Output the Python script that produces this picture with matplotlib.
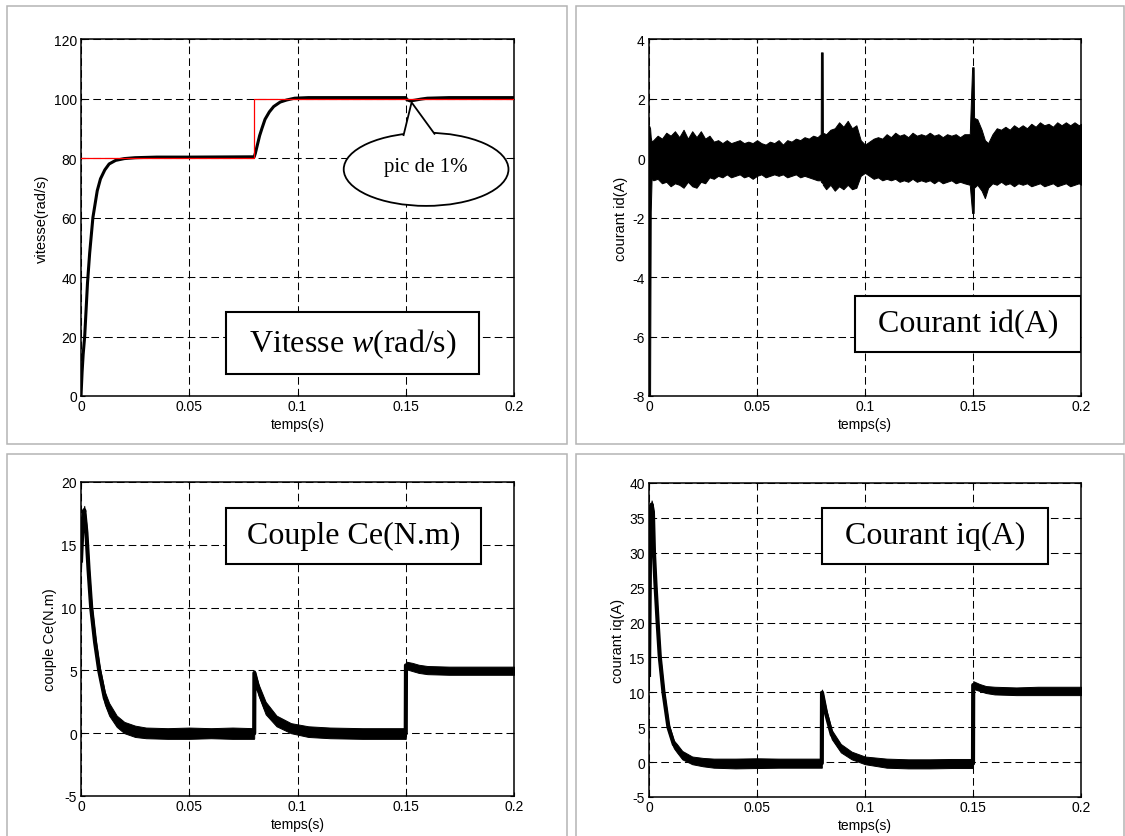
import matplotlib
matplotlib.use("Agg")
import matplotlib.pyplot as plt
import numpy as np
from matplotlib.patches import Rectangle, Ellipse, Polygon

plt.rcParams['font.family'] = ['Liberation Sans', 'DejaVu Sans']
plt.rcParams['mathtext.fontset'] = 'custom'
plt.rcParams['mathtext.rm'] = 'Liberation Serif'
plt.rcParams['mathtext.it'] = 'Liberation Serif:italic'
plt.rcParams['lines.scale_dashes'] = False

# ---- data ----
time_ticks = [0, 0.05, 0.1, 0.15, 0.2]
time_labels = ['0', '0.05', '0.1', '0.15', '0.2']

# speed reference (red) and measured speed (black)
ref_t = [0, 0.08, 0.08, 0.2]
ref_w = [80, 80, 100, 100]
speed_t = [0, 0.0005, 0.001, 0.0017, 0.0025, 0.003, 0.004, 0.0055, 0.0075, 0.009,
           0.011, 0.013, 0.016, 0.02, 0.025, 0.035, 0.05, 0.08, 0.0805, 0.0815,
           0.0825, 0.0836, 0.085, 0.087, 0.089, 0.092, 0.095, 0.0987, 0.105, 0.15,
           0.1505, 0.152, 0.154, 0.157, 0.16, 0.17, 0.2]
speed_w = [0, 8, 14, 20, 31, 38, 48, 60, 69, 73,
           76, 78, 79.2, 79.8, 80.1, 80.3, 80.3, 80.4, 81.5, 84.5,
           87.5, 90, 93, 95.5, 97.3, 98.8, 99.5, 100.1, 100.3, 100.3,
           99.6, 99.2, 99.4, 99.8, 100.1, 100.3, 100.3]

# id current, ripple band (lower / upper envelope)
id_t = [0, 0.0005, 0.0008, 0.0012, 0.002, 0.004, 0.006, 0.008, 0.010, 0.012,
        0.014, 0.016, 0.018, 0.020, 0.022, 0.024, 0.026, 0.028, 0.030, 0.032,
        0.034, 0.036, 0.038, 0.040, 0.042, 0.044, 0.046, 0.048, 0.050, 0.052,
        0.054, 0.056, 0.058, 0.060, 0.062, 0.064, 0.066, 0.068, 0.070, 0.072,
        0.074, 0.076, 0.078, 0.0795, 0.0796, 0.0804, 0.0805, 0.082, 0.084, 0.086,
        0.088, 0.090, 0.092, 0.094, 0.096, 0.098, 0.100, 0.102, 0.104, 0.106,
        0.108, 0.110, 0.112, 0.114, 0.116, 0.118, 0.120, 0.122, 0.124, 0.126,
        0.128, 0.130, 0.132, 0.134, 0.136, 0.138, 0.140, 0.142, 0.144, 0.146,
        0.1485, 0.1496, 0.1503, 0.1505, 0.152, 0.154, 0.1555, 0.157, 0.159, 0.161,
        0.163, 0.165, 0.167, 0.169, 0.171, 0.173, 0.175, 0.177, 0.179, 0.181,
        0.183, 0.185, 0.187, 0.189, 0.191, 0.193, 0.195, 0.197, 0.199, 0.2]
id_lo = [-8.0, -8.0, -1.8, -0.7, -0.75, -0.7, -0.85, -0.8, -0.95, -0.85,
         -0.9, -1.0, -0.8, -0.95, -1.0, -0.8, -0.85, -0.65, -0.7, -0.6,
         -0.65, -0.55, -0.65, -0.6, -0.55, -0.65, -0.6, -0.7, -0.6, -0.55,
         -0.65, -0.6, -0.55, -0.6, -0.55, -0.65, -0.6, -0.55, -0.65, -0.6,
         -0.65, -0.7, -0.75, -0.75, -0.8, -0.85, -0.9, -1.05, -0.9, -1.1,
         -0.95, -1.05, -0.9, -1.05, -1.0, -0.6, -0.5, -0.6, -0.7, -0.65,
         -0.75, -0.7, -0.75, -0.7, -0.8, -0.75, -0.8, -0.7, -0.8, -0.75,
         -0.8, -0.75, -0.85, -0.75, -0.85, -0.8, -0.75, -0.85, -0.8, -0.85,
         -0.9, -1.85, -1.85, -1.0, -0.9, -1.1, -1.35, -1.0, -0.85, -0.9,
         -0.8, -0.9, -0.85, -0.95, -0.85, -0.9, -0.85, -0.95, -0.9, -0.85,
         -0.95, -0.9, -0.85, -0.95, -0.9, -0.85, -0.95, -0.9, -0.85, -0.9]
id_hi = [1.1, 1.0, 0.7, 0.55, 0.6, 0.75, 0.65, 0.85, 0.75, 0.9,
         0.7, 0.95, 0.65, 0.9, 0.7, 0.9, 0.65, 0.75, 0.55, 0.6,
         0.5, 0.6, 0.5, 0.55, 0.6, 0.5, 0.55, 0.5, 0.6, 0.5,
         0.45, 0.55, 0.5, 0.6, 0.45, 0.6, 0.55, 0.65, 0.6, 0.7,
         0.65, 0.75, 0.7, 0.8, 3.55, 3.55, 0.85, 0.8, 0.95, 1.0,
         1.2, 1.05, 1.25, 1.0, 1.1, 0.6, 0.45, 0.55, 0.65, 0.7,
         0.65, 0.8, 0.7, 0.85, 0.75, 0.8, 0.7, 0.85, 0.75, 0.8,
         0.75, 0.85, 0.75, 0.8, 0.7, 0.8, 0.75, 0.8, 0.7, 0.8,
         0.8, 3.05, 3.05, 1.35, 1.3, 0.95, 0.6, 0.5, 0.8, 1.0,
         0.95, 1.05, 0.95, 1.1, 1.0, 1.1, 1.0, 1.15, 1.05, 1.2,
         1.1, 1.15, 1.05, 1.2, 1.1, 1.2, 1.1, 1.2, 1.1, 1.15]

# electromagnetic torque band
ce_t = [0, 0.0008, 0.0015, 0.0025, 0.0035, 0.0047, 0.0065, 0.0084, 0.011, 0.013,
        0.0165, 0.02, 0.025, 0.03, 0.04, 0.05, 0.06, 0.07, 0.0799, 0.08,
        0.0801, 0.082, 0.0853, 0.0903, 0.097, 0.105, 0.115, 0.13, 0.1499, 0.15,
        0.1501, 0.153, 0.156, 0.16, 0.17, 0.18, 0.19, 0.2]
ce_lo = [13.0, 16.3, 17.4, 15.3, 12.4, 9.4, 6.7, 4.5, 2.3, 1.4,
         0.5, 0.0, -0.3, -0.4, -0.45, -0.45, -0.4, -0.45, -0.45, -0.4,
         4.6, 3.0, 1.5, 0.55, 0.0, -0.3, -0.4, -0.45, -0.45, -0.45,
         5.1, 4.95, 4.8, 4.7, 4.65, 4.65, 4.65, 4.65]
ce_hi = [14.5, 17.6, 18.1, 16.6, 13.6, 10.6, 7.8, 5.5, 3.3, 2.4,
         1.4, 0.9, 0.6, 0.45, 0.4, 0.45, 0.4, 0.45, 0.4, 0.4,
         5.0, 3.9, 2.5, 1.4, 0.8, 0.55, 0.45, 0.4, 0.4, 0.4,
         5.7, 5.6, 5.45, 5.35, 5.3, 5.3, 5.3, 5.3]

# iq current band
iq_t = [0, 0.0006, 0.0012, 0.0018, 0.0023, 0.003, 0.004, 0.005, 0.0067, 0.009,
        0.0115, 0.0129, 0.0154, 0.02, 0.025, 0.03, 0.04, 0.05, 0.06, 0.07,
        0.0799, 0.08, 0.0801, 0.082, 0.0846, 0.0888, 0.0938, 0.1, 0.11, 0.12,
        0.13, 0.14, 0.1499, 0.15, 0.1501, 0.153, 0.156, 0.16, 0.17, 0.18,
        0.19, 0.2]
iq_lo = [11.0, 33.0, 36.3, 35.0, 29.0, 24.5, 19.0, 14.3, 9.3, 4.4,
         2.0, 1.4, 0.4, -0.3, -0.6, -0.8, -0.9, -0.85, -0.8, -0.8,
         -0.8, -0.8, 9.5, 6.3, 3.3, 1.4, 0.4, -0.3, -0.8, -0.9,
         -0.9, -0.85, -0.85, -0.85, 10.5, 10.2, 9.9, 9.7, 9.6, 9.6,
         9.6, 9.6]
iq_hi = [14.0, 36.0, 37.5, 36.8, 31.0, 26.5, 21.0, 15.8, 10.7, 5.6,
         3.1, 2.6, 1.6, 0.8, 0.6, 0.5, 0.5, 0.55, 0.5, 0.5,
         0.5, 0.5, 10.4, 7.6, 4.6, 2.6, 1.5, 0.8, 0.5, 0.4,
         0.4, 0.45, 0.45, 0.45, 11.6, 11.2, 10.9, 10.8, 10.7, 10.8,
         10.8, 10.8]

# ---- figure ----
W, H = 1125, 837
fig = plt.figure(figsize=(W / 100, H / 100), dpi=100)
fig.patch.set_facecolor('white')


def px_axes(x0, y0, x1, y1):
    return fig.add_axes([x0 / W, 1 - y1 / H, (x1 - x0) / W, (y1 - y0) / H])


def px_frame(x0, y0, x1, y1):
    fig.add_artist(Rectangle((x0 / W, 1 - y1 / H), (x1 - x0) / W, (y1 - y0) / H,
                             transform=fig.transFigure, facecolor='none',
                             edgecolor='#b4b4b4', linewidth=1.1))


def style_axes(ax, yticks, ylabel):
    ax.set_xlim(0, 0.2)
    ax.set_ylim(yticks[0], yticks[-1])
    ax.set_xticks(time_ticks)
    ax.set_xticklabels(time_labels)
    ax.set_yticks(yticks)
    ax.set_yticklabels([str(v) for v in yticks])
    ax.tick_params(direction='in', top=True, right=True, length=3, width=0.8,
                   labelsize=10, colors='black')
    ax.tick_params(axis='x', pad=2.5)
    ax.tick_params(axis='y', pad=3)
    ax.grid(True, color='black', linestyle=(0, (5.5, 3)), linewidth=0.75)
    ax.set_axisbelow(True)
    for s in ax.spines.values():
        s.set_linewidth(1.1)
    ax.set_xlabel('temps(s)', fontsize=10, labelpad=2.5)
    ax.set_ylabel(ylabel, fontsize=10.5, labelpad=3)


def label_box(ax, x0, x1, y0, y1, text):
    ax.add_patch(Rectangle((x0, y0), x1 - x0, y1 - y0, facecolor='white',
                           edgecolor='black', linewidth=1.5, zorder=5))
    ax.text((x0 + x1) / 2, (y0 + y1) / 2, text, family='Liberation Serif',
            fontsize=23, ha='center', va='center', zorder=6)


def band(ax, t, lo, hi, mid_width):
    ax.fill_between(t, lo, hi, facecolor='black', edgecolor='black',
                    linewidth=0.7, zorder=3)
    if mid_width:
        mid = (np.array(lo) + np.array(hi)) / 2
        ax.plot(t, mid, color='black', linewidth=mid_width, zorder=3)


# panel frames
px_frame(7, 7, 567, 445)
px_frame(576, 7, 1124, 445)
px_frame(7, 455, 567, 845)
px_frame(576, 455, 1124, 845)

# speed
ax1 = px_axes(81, 40, 514, 397)
style_axes(ax1, [0, 20, 40, 60, 80, 100, 120], 'vitesse(rad/s)')
ax1.plot(speed_t, speed_w, color='black', linewidth=2.2, zorder=3)
ax1.plot(ref_t, ref_w, color='#ff0000', linewidth=0.9, zorder=4)
label_box(ax1, 0.0671, 0.1837, 7.3, 28.3, 'Vitesse $w$(rad/s)')
ax1.add_patch(Ellipse((0.1594, 76.2), 0.0761, 24.6, facecolor='white',
                      edgecolor='black', linewidth=1.3, zorder=5))
ax1.add_patch(Polygon([(0.1489, 87.4), (0.1527, 98.7), (0.1635, 87.9)],
                      closed=False, facecolor='white', edgecolor='black',
                      linewidth=1.3, zorder=6))
ax1.text(0.1593, 77.2, 'pic de 1%', family='Liberation Serif', fontsize=15,
         ha='center', va='center', zorder=7)

# id current
ax2 = px_axes(649, 40, 1081, 397)
style_axes(ax2, [-8, -6, -4, -2, 0, 2, 4], 'courant id(A)')
band(ax2, id_t, id_lo, id_hi, 0)
label_box(ax2, 0.0954, 0.2, -6.51, -4.63, 'Courant id(A)')

# torque
ax3 = px_axes(81, 483, 514, 797)
style_axes(ax3, [-5, 0, 5, 10, 15, 20], 'couple Ce(N.m)')
band(ax3, ce_t, ce_lo, ce_hi, 3)
label_box(ax3, 0.0671, 0.1849, 13.48, 17.95, 'Couple Ce(N.m)')

# iq current
ax4 = px_axes(649, 484, 1081, 798)
style_axes(ax4, [-5, 0, 5, 10, 15, 20, 25, 30, 35, 40], 'courant iq(A)')
band(ax4, iq_t, iq_lo, iq_hi, 3)
label_box(ax4, 0.0801, 0.1848, 28.39, 36.45, 'Courant iq(A)')

fig.savefig('out.png', dpi=100)
